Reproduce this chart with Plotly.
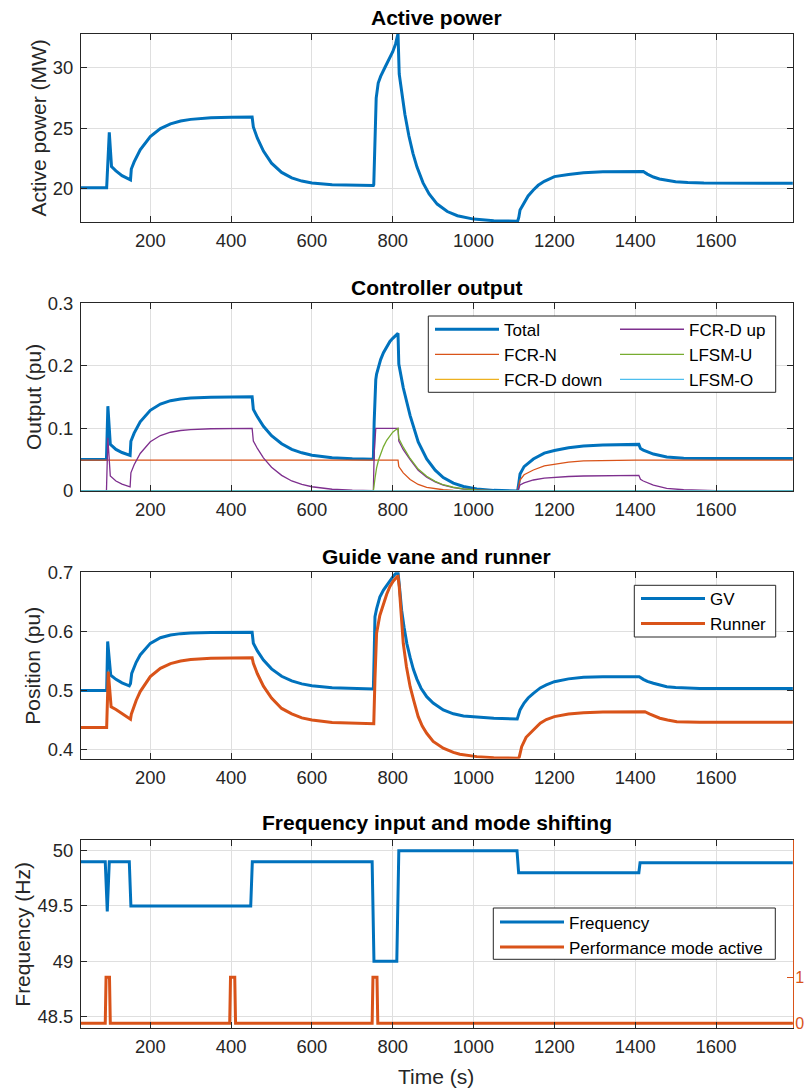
import plotly.graph_objects as go

# ---------------- data ----------------
power_t = [28, 92, 98.5, 104, 115, 130, 151, 153, 160, 175,
           200, 225, 250, 275, 300, 325, 350, 400, 452, 455,
           465, 480, 500, 525, 550, 575, 600, 650, 700, 752,
           753, 759, 764, 770, 780, 790, 800, 807, 813, 816,
           822, 830, 840, 850, 860, 875, 890, 910, 935, 960,
           1000, 1050, 1109, 1112, 1115, 1125, 1135, 1148, 1160, 1175,
           1200, 1235, 1272, 1320, 1420, 1430, 1445, 1460, 1480, 1500,
           1530, 1570, 1790]
power_mw = [20.05, 20.05, 24.65, 21.8, 21.45, 21.05, 20.7, 21.6, 22.2, 23.2,
            24.3, 24.96, 25.36, 25.59, 25.73, 25.81, 25.86, 25.9, 25.92, 25.1,
            24.16, 23.09, 22.09, 21.32, 20.87, 20.6, 20.44, 20.3, 20.25, 20.23,
            20.3, 27.5, 28.75, 29.3, 30.0, 30.7, 31.35, 32.0, 32.85, 29.5,
            27.94, 26.16, 24.35, 22.91, 21.76, 20.45, 19.53, 18.69, 18.07, 17.72,
            17.44, 17.31, 17.26, 17.6, 18.2, 18.85, 19.37, 19.86, 20.25, 20.58,
            20.97, 21.15, 21.3, 21.37, 21.4, 21.18, 20.94, 20.78, 20.64, 20.55,
            20.48, 20.44, 20.42]

total_t = [28, 91.5, 95, 99, 101, 115, 130, 150, 152, 160,
           175, 200, 225, 250, 275, 300, 350, 452, 455, 465,
           480, 500, 525, 550, 575, 600, 650, 700, 752, 754,
           756, 758, 760, 765, 770, 777, 785, 793, 800, 806,
           811, 813, 815, 826, 843, 863, 884, 905, 925, 950,
           975, 1008, 1050, 1109, 1112, 1115, 1125, 1148, 1175, 1200,
           1235, 1272, 1320, 1409, 1413, 1420, 1445, 1478, 1520, 1560,
           1600, 1790]
total_pu = [0.0505, 0.0505, 0.1355, 0.0805, 0.0745, 0.0665, 0.0615, 0.057, 0.0795, 0.0925,
            0.1105, 0.129, 0.139, 0.1444, 0.1472, 0.1487, 0.15, 0.1505, 0.1305, 0.1185,
            0.1035, 0.0885, 0.0755, 0.0665, 0.061, 0.0573, 0.0533, 0.0517, 0.0509, 0.11,
            0.165, 0.178, 0.187, 0.2, 0.21, 0.221, 0.231, 0.239, 0.244, 0.247,
            0.25, 0.252, 0.203, 0.165, 0.1205, 0.0785, 0.0513, 0.0333, 0.0215, 0.0125,
            0.0072, 0.0033, 0.001, 0.0, 0.013, 0.0272, 0.039, 0.0512, 0.0605, 0.0648,
            0.0692, 0.072, 0.0736, 0.0745, 0.068, 0.0655, 0.059, 0.0545, 0.0525, 0.052,
            0.052, 0.052]

fcrn_t = [28, 813, 815, 826, 843, 863, 884, 905, 925, 950,
          975, 1008, 1109, 1112, 1115, 1125, 1148, 1175, 1200, 1235,
          1272, 1320, 1400, 1790]
fcrn_pu = [0.0495, 0.0495, 0.039, 0.029, 0.0185, 0.0105, 0.0058, 0.0033, 0.002, 0.001,
           0.0005, 0.0002, 0.0, 0.008, 0.0176, 0.026, 0.0336, 0.04, 0.043, 0.046,
           0.048, 0.049, 0.0495, 0.0495]

fcrd_down_t = [28, 1790]
fcrd_down_pu = [0.0, 0.0]

fcrd_up_t = [28, 91.5, 95, 99, 101, 115, 130, 150, 152, 160,
             175, 200, 225, 250, 275, 300, 350, 452, 455, 465,
             480, 500, 525, 550, 575, 600, 650, 700, 752, 754,
             756, 758, 811, 813, 815, 826, 843, 863, 884, 905,
             925, 950, 975, 1008, 1050, 1109, 1112, 1115, 1125, 1148,
             1175, 1200, 1235, 1272, 1320, 1409, 1413, 1420, 1445, 1478,
             1520, 1560, 1600, 1790]
fcrd_up_pu = [0.0, 0.0, 0.085, 0.03, 0.024, 0.016, 0.011, 0.0065, 0.029, 0.042,
              0.06, 0.0786, 0.0886, 0.0939, 0.0967, 0.0982, 0.0995, 0.1, 0.08, 0.068,
              0.053, 0.038, 0.025, 0.016, 0.0105, 0.0068, 0.0028, 0.0012, 0.0004, 0.06,
              0.095, 0.1, 0.1, 0.1, 0.08, 0.066, 0.05, 0.033, 0.022, 0.0145,
              0.0095, 0.0055, 0.0032, 0.0015, 0.0005, 0.0, 0.005, 0.0096, 0.013, 0.0176,
              0.0205, 0.0218, 0.0232, 0.024, 0.0246, 0.025, 0.0186, 0.016, 0.0095, 0.0043,
              0.002, 0.0012, 0.0006, 0.0]

lfsm_u_t = [28, 752, 756, 760, 765, 770, 777, 785, 793, 800,
            806, 811, 813, 815, 826, 843, 863, 884, 905, 925,
            950, 975, 1008, 1050, 1109, 1790]
lfsm_u_pu = [0.0, 0.0, 0.02, 0.037, 0.05, 0.06, 0.071, 0.081, 0.089, 0.094,
             0.097, 0.1, 0.1, 0.084, 0.07, 0.052, 0.035, 0.0235, 0.0155, 0.01,
             0.006, 0.0035, 0.0016, 0.0005, 0.0, 0.0]

lfsm_o_t = [28, 1790]
lfsm_o_pu = [0.0, 0.0]

gv_t = [28, 92, 94.5, 102, 115, 130, 148, 151, 154, 165,
        175, 200, 225, 250, 275, 300, 350, 400, 452, 455,
        465, 480, 500, 525, 550, 575, 600, 650, 700, 752,
        754, 756, 760, 768, 777, 785, 793, 801, 810, 813,
        816, 822, 828, 835, 843, 851, 860, 870, 884, 900,
        925, 950, 975, 1008, 1050, 1108, 1111, 1115, 1125, 1135,
        1148, 1165, 1180, 1200, 1235, 1272, 1320, 1410, 1420, 1430,
        1445, 1460, 1478, 1500, 1519, 1560, 1790]
gv_pos = [0.5, 0.5, 0.583, 0.526, 0.519, 0.513, 0.508, 0.512, 0.529, 0.5478,
          0.5603, 0.5798, 0.5893, 0.594, 0.5963, 0.5974, 0.5982, 0.5985, 0.5985, 0.58,
          0.5671, 0.5517, 0.5367, 0.5242, 0.5163, 0.5113, 0.508, 0.5047, 0.5034, 0.5027,
          0.56, 0.625, 0.638, 0.658, 0.67, 0.678, 0.686, 0.693, 0.7, 0.7,
          0.68, 0.636, 0.607, 0.579, 0.556, 0.536, 0.519, 0.504, 0.4897, 0.479,
          0.4672, 0.4607, 0.457, 0.4548, 0.453, 0.4518, 0.458, 0.4672, 0.479, 0.4875,
          0.4954, 0.5045, 0.5095, 0.515, 0.5198, 0.5225, 0.5232, 0.5235, 0.519, 0.5155,
          0.5123, 0.5095, 0.5066, 0.5052, 0.5044, 0.5036, 0.5033]

runner_t = [28, 92, 96, 103, 115, 130, 151, 153, 157, 165,
            175, 200, 225, 250, 275, 300, 350, 400, 452, 455,
            465, 480, 500, 525, 550, 575, 600, 650, 700, 753,
            756, 760, 768, 777, 785, 793, 801, 811, 813, 816,
            821, 826, 834, 843, 852, 863, 873, 884, 900, 925,
            950, 966, 1008, 1050, 1110, 1113, 1119, 1130, 1148, 1165,
            1180, 1200, 1235, 1272, 1320, 1424, 1435, 1448, 1461, 1480,
            1503, 1530, 1560, 1790]
runner_pos = [0.4377, 0.4377, 0.532, 0.4727, 0.468, 0.461, 0.4515, 0.46, 0.4685, 0.4833,
              0.4983, 0.5236, 0.5377, 0.5456, 0.55, 0.5525, 0.5546, 0.5553, 0.5556, 0.546,
              0.5284, 0.5075, 0.4874, 0.4698, 0.4606, 0.4538, 0.4501, 0.4461, 0.4445, 0.4438,
              0.52, 0.597, 0.627, 0.648, 0.663, 0.676, 0.685, 0.6926, 0.693, 0.676,
              0.63, 0.58, 0.54, 0.5066, 0.483, 0.4559, 0.44, 0.4278, 0.414, 0.4025,
              0.3955, 0.3923, 0.3883, 0.3866, 0.3856, 0.3875, 0.4052, 0.421, 0.4334, 0.445,
              0.451, 0.4559, 0.4605, 0.4626, 0.4638, 0.4643, 0.4605, 0.4565, 0.4532, 0.4502,
              0.4474, 0.4468, 0.4465, 0.4464]

freq_t = [28, 88.5, 93.5, 98.5, 148, 152, 448.5, 452.5, 749, 753.5,
          810, 815, 1107.5, 1111.5, 1409, 1412, 1790]
freq_hz = [49.9, 49.9, 49.45, 49.9, 49.9, 49.5, 49.5, 49.9, 49.9, 49.0,
           49.0, 50.0, 50.0, 49.8, 49.8, 49.89, 49.89]

perf_t = [28, 88.5, 90.5, 99, 101, 396.5, 398.5, 409, 411, 749, 751, 761, 763, 1790]
perf_on = [0, 0, 1, 1, 0, 0, 1, 1, 0, 0, 1, 1, 0, 0]

x_ticks = [200, 400, 600, 800, 1000, 1200, 1400, 1600]

for a, b in [(power_t, power_mw), (total_t, total_pu), (fcrn_t, fcrn_pu),
             (fcrd_up_t, fcrd_up_pu), (lfsm_u_t, lfsm_u_pu), (gv_t, gv_pos),
             (runner_t, runner_pos), (freq_t, freq_hz), (perf_t, perf_on)]:
    assert len(a) == len(b), (len(a), len(b))

# ---------------- styling ----------------
W, H = 806, 1090
def fx(p):
    return p / W
def fy(p):
    return 1 - p / H

BLUE = '#0072BD'; ORANGE = '#D95319'; YELLOW = '#EDB120'
PURPLE = '#7E2F8E'; GREEN = '#77AC30'; CYAN = '#4DBEEE'
AX = '#262626'; GRID = '#dfdfdf'
FONT = 'Liberation Sans, Arial, Helvetica, sans-serif'
THICK = 3.0
THIN = 1.3

fig = go.Figure()

# panel 1
fig.add_trace(go.Scatter(x=power_t, y=power_mw, mode='lines', name='Active power',
                         line=dict(color=BLUE, width=THICK), xaxis='x', yaxis='y',
                         showlegend=False))

# panel 2
p2 = [
    ('Total', total_t, total_pu, BLUE, THICK, 'legend'),
    ('FCR-N', fcrn_t, fcrn_pu, ORANGE, THIN, 'legend'),
    ('FCR-D down', fcrd_down_t, fcrd_down_pu, YELLOW, THIN, 'legend'),
    ('FCR-D up', fcrd_up_t, fcrd_up_pu, PURPLE, THIN, 'legend2'),
    ('LFSM-U', lfsm_u_t, lfsm_u_pu, GREEN, THIN, 'legend2'),
    ('LFSM-O', lfsm_o_t, lfsm_o_pu, CYAN, THIN, 'legend2'),
]
for name, t, v, col, w, leg in p2:
    fig.add_trace(go.Scatter(x=t, y=v, mode='lines', name=name,
                             line=dict(color=col, width=w), xaxis='x2', yaxis='y2',
                             legend=leg))

# panel 3
fig.add_trace(go.Scatter(x=gv_t, y=gv_pos, mode='lines', name='GV',
                         line=dict(color=BLUE, width=THICK), xaxis='x3', yaxis='y3',
                         legend='legend3'))
fig.add_trace(go.Scatter(x=runner_t, y=runner_pos, mode='lines', name='Runner',
                         line=dict(color=ORANGE, width=THICK), xaxis='x3', yaxis='y3',
                         legend='legend3'))

# panel 4
fig.add_trace(go.Scatter(x=freq_t, y=freq_hz, mode='lines', name='Frequency',
                         line=dict(color=BLUE, width=THICK), xaxis='x4', yaxis='y4',
                         legend='legend4'))
fig.add_trace(go.Scatter(x=perf_t, y=perf_on, mode='lines', name='Performance mode active',
                         line=dict(color=ORANGE, width=THICK), xaxis='x4', yaxis='y5',
                         legend='legend4'))

tickfont = dict(family=FONT, size=18.4, color=AX)
axstyle = dict(showline=True, linecolor=AX, linewidth=1, ticks='inside', ticklen=6,
               tickcolor=AX, tickwidth=1, showgrid=True, gridcolor=GRID, gridwidth=1,
               zeroline=False, tickfont=tickfont, automargin=False)
xdom = [fx(81), fx(793)]

def xax(anchor):
    return dict(domain=xdom, range=[28.5, 1790.5], tickvals=x_ticks, anchor=anchor,
                mirror='ticks', ticklabelstandoff=2, **axstyle)

layout = dict(
    template='none',
    width=W, height=H, margin=dict(l=0, r=0, t=0, b=0, pad=0, autoexpand=False),
    paper_bgcolor='white', plot_bgcolor='white',
    font=dict(family=FONT, color=AX),
    xaxis=xax('y'), xaxis2=xax('y2'), xaxis3=xax('y3'), xaxis4=xax('y4'),
    yaxis=dict(domain=[fy(222), fy(33.7)], range=[17.2, 32.85], tickvals=[20, 25, 30],
               anchor='x', mirror='ticks', ticklabelstandoff=3, **axstyle),
    yaxis2=dict(domain=[fy(491), fy(303.3)], range=[0, 0.3], tickvals=[0, 0.1, 0.2, 0.3],
                anchor='x2', mirror='ticks', ticklabelstandoff=3, **axstyle),
    yaxis3=dict(domain=[fy(758.7), fy(572.3)], range=[0.3848, 0.7], tickvals=[0.4, 0.5, 0.6, 0.7],
                anchor='x3', mirror='ticks', ticklabelstandoff=3, **axstyle),
    yaxis4=dict(domain=[fy(1028.3), fy(840)], range=[48.395, 50.096],
                tickvals=[48.5, 49, 49.5, 50], anchor='x4', mirror=False,
                ticklabelstandoff=3, **axstyle),
    yaxis5=dict(overlaying='y4', side='right', anchor='x4', range=[-0.109, 3.985],
                tickvals=[0, 1], showgrid=False, zeroline=False, showline=True,
                linecolor=ORANGE, linewidth=1, ticks='inside', ticklen=6, tickcolor=ORANGE,
                tickfont=dict(family=FONT, size=16, color=ORANGE), ticklabelstandoff=-2,
                automargin=False),
)

legfont = dict(family=FONT, size=17, color='black')
def leg(x, y):
    return dict(x=fx(x), y=fy(y), xanchor='left', yanchor='top', orientation='v',
                bgcolor='rgba(0,0,0,0)', borderwidth=0, font=legfont, itemwidth=64,
                traceorder='normal')
layout['legend'] = leg(430, 311.7)
layout['legend2'] = leg(615, 311.7)
layout['legend3'] = leg(636, 580.9)
layout['legend4'] = leg(495, 904.4)

# legend frames
def box(x0, y0, x1, y1):
    return dict(type='rect', xref='paper', yref='paper', x0=fx(x0), x1=fx(x1),
                y0=fy(y1), y1=fy(y0), line=dict(color=AX, width=1),
                fillcolor='white', layer='above')
layout['shapes'] = [box(428.3, 316, 775.7, 392.3), box(634.3, 585.3, 775.7, 637),
                    box(493.3, 908, 775.3, 959.3)]

titlefont = dict(family=FONT, size=21, color='black', weight='bold')
labfont = dict(family=FONT, size=21, color=AX)
ann = []
for txt, yy in [('Active power', 17.5), ('Controller output', 287.5),
                ('Guide vane and runner', 556.5), ('Frequency input and mode shifting', 822.5)]:
    ann.append(dict(text=txt, x=fx(437), y=fy(yy), xref='paper', yref='paper',
                    xanchor='center', yanchor='middle', showarrow=False, font=titlefont))
for txt, xx, yy in [('Active power (MW)', 37.5, 128), ('Output (pu)', 33, 397),
                    ('Position (pu)', 32.2, 665.5), ('Frequency (Hz)', 21.7, 934)]:
    ann.append(dict(text=txt, x=fx(xx), y=fy(yy), xref='paper', yref='paper',
                    xanchor='center', yanchor='middle', textangle=-90, showarrow=False,
                    font=labfont))
ann.append(dict(text='Time (s)', x=fx(436), y=fy(1076), xref='paper', yref='paper',
                xanchor='center', yanchor='middle', showarrow=False, font=labfont))
layout['annotations'] = ann

fig.update_layout(**layout)

fig.write_html("out.html", config={'displayModeBar': False},
               post_script="document.body.style.margin='0px';")
